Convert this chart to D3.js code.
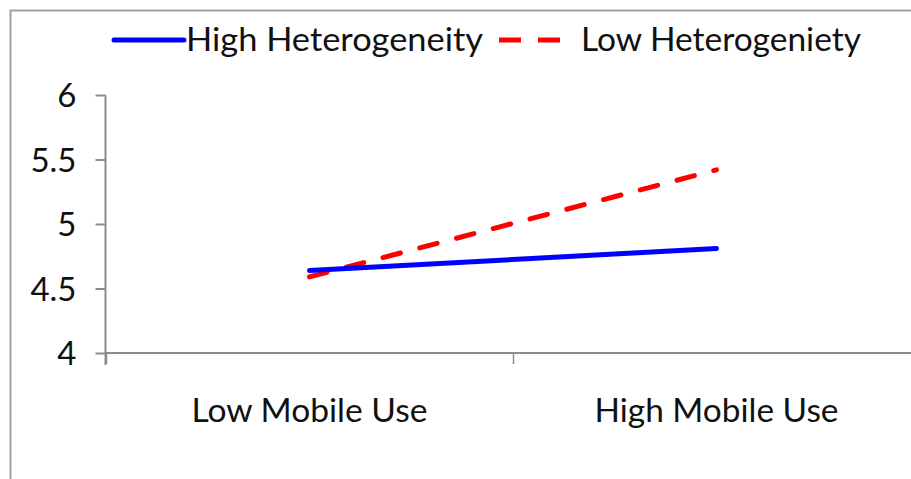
<!DOCTYPE html>
<html><head><meta charset="utf-8">
<script src="https://cdn.jsdelivr.net/npm/d3@7"></script>
<style>html,body{margin:0;padding:0;background:#fff;}svg{display:block;}</style>
</head><body>
<svg id="c" width="911" height="479"></svg>
<script>
const categories = ["Low Mobile Use", "High Mobile Use"];
const seriesNames = ["High Heterogeneity", "Low Heterogeniety"];
const highHeterogeneity = [4.64, 4.81];
const lowHeterogeneity = [4.59, 5.42];
const yTicks = [4, 4.5, 5, 5.5, 6];
const yTickLabels = ["4", "4.5", "5", "5.5", "6"];

const svg = d3.select("#c");
const font = "Lato, 'Open Sans', sans-serif";
const W = 911, H = 479;

// outer frame
svg.append("path").attr("d", `M10.5,${H} V10.5 H${W}`).attr("fill","none").attr("stroke","#a0a0a0").attr("stroke-width",2);

const x = d3.scaleBand().domain(categories).range([106, 920]).padding(0);
const y = d3.scaleLinear().domain([4, 6]).range([353, 95]);

// y axis
const yAxis = svg.append("g").attr("transform","translate(105.5,0)")
  .call(d3.axisLeft(y).tickValues(yTicks).tickSize(10).tickFormat((d,i)=>yTickLabels[i]));
yAxis.select(".domain").attr("stroke","#8c8c8c").attr("stroke-width",2).attr("d", `M0,${y(6)}V${y(4)+12}`);
yAxis.selectAll(".tick line").attr("stroke","#8c8c8c").attr("stroke-width",2);
yAxis.selectAll(".tick text").attr("x",-29).attr("font-family",font).attr("font-size",33).attr("fill","#111").attr("dy","0.36em");

// x axis line
svg.append("line").attr("x1",105).attr("x2",W).attr("y1",353).attr("y2",353).attr("stroke","#8c8c8c").attr("stroke-width",2);
// boundary ticks
svg.selectAll(".xb").data(categories).enter().append("line")
  .attr("x1",d=>Math.round(x(d))+0.5).attr("x2",d=>Math.round(x(d))+0.5)
  .attr("y1",353).attr("y2",364).attr("stroke","#8c8c8c").attr("stroke-width",1.5);
// x labels
const xAxis = svg.append("g").attr("transform","translate(0,353)")
  .call(d3.axisBottom(x).tickSize(0).tickPadding(0));
xAxis.select(".domain").remove();
xAxis.selectAll(".tick text").attr("font-family",font).attr("font-size",32).attr("fill","#111")
  .attr("dy","0").attr("y",69)
  .attr("textLength",(d,i)=>i===0?236:244).attr("lengthAdjust","spacingAndGlyphs");

const line = d3.line().x((d,i)=>x(categories[i]) + x.bandwidth()/2).y(d=>y(d));
svg.append("path").datum(lowHeterogeneity).attr("d",line).attr("fill","none")
  .attr("stroke","#ff0000").attr("stroke-width",5).attr("stroke-dasharray","18,20").attr("stroke-linecap","round");
svg.append("path").datum(highHeterogeneity).attr("d",line).attr("fill","none")
  .attr("stroke","#0000ff").attr("stroke-width",5).attr("stroke-linecap","round");

// legend
const lg = svg.append("g");
lg.append("line").attr("x1",114).attr("x2",184).attr("y1",40).attr("y2",40).attr("stroke","#0000ff").attr("stroke-width",5).attr("stroke-linecap","round");
lg.append("text").attr("x",186).attr("y",51).text(seriesNames[0])
  .attr("font-family",font).attr("font-size",32).attr("fill","#111")
  .attr("textLength",297).attr("lengthAdjust","spacingAndGlyphs");
lg.append("line").attr("x1",499).attr("x2",566).attr("y1",40).attr("y2",40).attr("stroke","#ff0000").attr("stroke-width",5).attr("stroke-dasharray","22,17").attr("stroke-linecap","butt");
lg.append("text").attr("x",581).attr("y",51).text(seriesNames[1])
  .attr("font-family",font).attr("font-size",32).attr("fill","#111")
  .attr("textLength",280).attr("lengthAdjust","spacingAndGlyphs");
</script>
</body></html>
